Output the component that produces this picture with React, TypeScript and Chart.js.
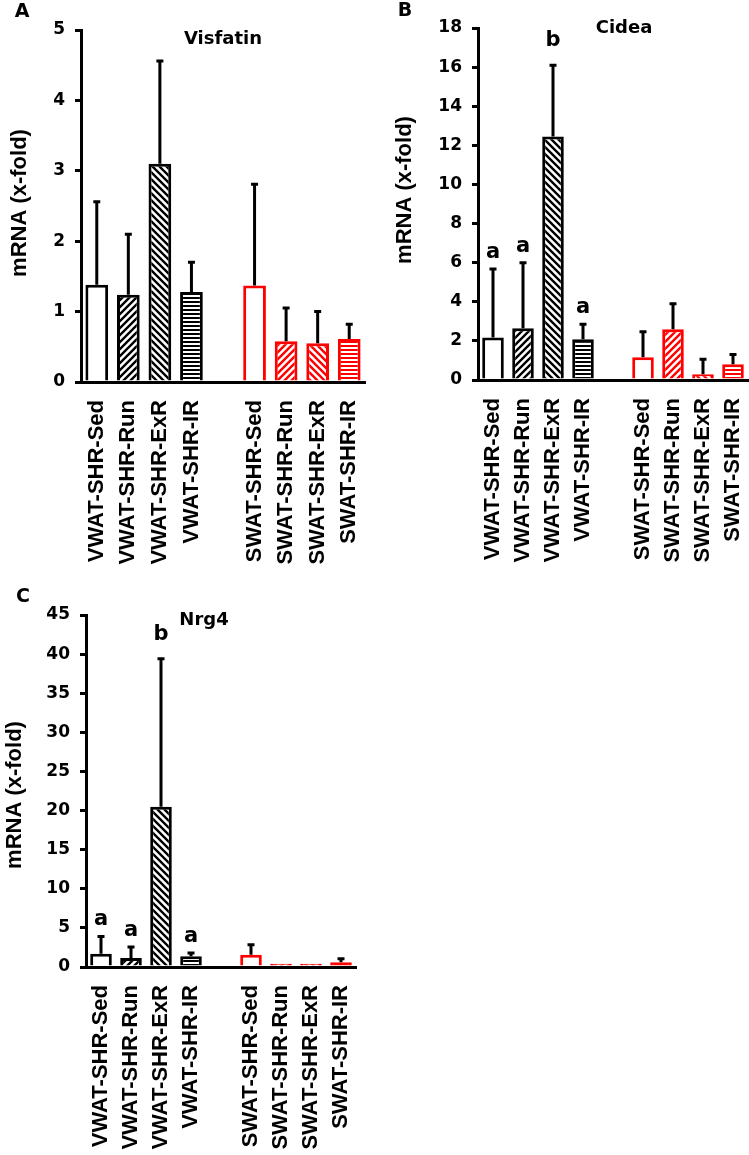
import React, { useEffect, useRef } from "react";
import { Chart, registerables } from "chart.js";

Chart.register(...registerables);

// ---------- data ----------
const categories = [
  "VWAT-SHR-Sed",
  "VWAT-SHR-Run",
  "VWAT-SHR-ExR",
  "VWAT-SHR-IR",
  "",
  "SWAT-SHR-Sed",
  "SWAT-SHR-Run",
  "SWAT-SHR-ExR",
  "SWAT-SHR-IR",
];
const hatchTypes: (string | null)[] = ["none", "fwd", "back", "horiz", null, "none", "fwd", "back", "horiz"];
const groupColors = ["#000000", "#000000", "#000000", "#000000", "#000000", "#ff0000", "#ff0000", "#ff0000", "#ff0000"];

const visfatinMean = [1.38, 1.24, 3.1, 1.28, null, 1.37, 0.58, 0.55, 0.61];
const visfatinUpper = [2.56, 2.1, 4.56, 1.7, null, 2.81, 1.05, 1.0, 0.82];
const visfatinLetters = ["", "", "", "", "", "", "", "", ""];

const cideaMean = [2.17, 2.65, 12.45, 2.08, null, 1.16, 2.6, 0.3, 0.8];
const cideaUpper = [5.68, 6.0, 16.1, 2.85, null, 2.47, 3.9, 1.06, 1.3];
const cideaLetters = ["a", "a", "b", "a", "", "", "", "", ""];

const nrg4Mean = [1.7, 1.15, 20.5, 1.36, null, 1.57, 0.4, 0.4, 0.6];
const nrg4Upper = [3.9, 2.55, 39.4, 1.8, null, 2.85, null, null, 1.06];
const nrg4Letters = ["a", "a", "b", "a", "", "", "", "", ""];

const yAxisTitle = "mRNA (x-fold)";

// ---------- styling ----------
const HFONT = '"DejaVu Sans", "Liberation Sans", sans-serif';
const VFONT = '"Liberation Sans", Arial, sans-serif';
const letterGap: Record<string, number> = { a: 11, b: 19 };

type PanelCfg = {
  letter: string;
  title: string;
  means: (number | null)[];
  uppers: (number | null)[];
  letters: string[];
  yMax: number;
  yStep: number;
  left: number;
  top: number;
  width: number;
  height: number;
  areaLeft: number;
  areaTop: number;
  areaRight: number;
  areaBottom: number;
  letterPos: [number, number];
  titlePos: [number, number];
  yTitlePos: [number, number];
};

const panels: PanelCfg[] = [
  {
    letter: "A",
    title: "Visfatin",
    means: visfatinMean,
    uppers: visfatinUpper,
    letters: visfatinLetters,
    yMax: 5,
    yStep: 1,
    left: 0,
    top: 0,
    width: 370,
    height: 570,
    areaLeft: 81,
    areaTop: 30,
    areaRight: 365,
    areaBottom: 382,
    letterPos: [22, 12],
    titlePos: [223, 39],
    yTitlePos: [20, 203],
  },
  {
    letter: "B",
    title: "Cidea",
    means: cideaMean,
    uppers: cideaUpper,
    letters: cideaLetters,
    yMax: 18,
    yStep: 2,
    left: 370,
    top: 0,
    width: 379,
    height: 570,
    areaLeft: 108,
    areaTop: 28,
    areaRight: 378,
    areaBottom: 380,
    letterPos: [35, 11],
    titlePos: [254, 28],
    yTitlePos: [35, 190],
  },
  {
    letter: "C",
    title: "Nrg4",
    means: nrg4Mean,
    uppers: nrg4Upper,
    letters: nrg4Letters,
    yMax: 45,
    yStep: 5,
    left: 0,
    top: 575,
    width: 370,
    height: 580,
    areaLeft: 86,
    areaTop: 40,
    areaRight: 356,
    areaBottom: 392,
    letterPos: [23, 22],
    titlePos: [204, 45],
    yTitlePos: [15, 220],
  },
];

function makePattern(type: string, color: string): CanvasPattern | string {
  const c = document.createElement("canvas");
  if (type === "none") return "#ffffff";
  if (type === "horiz") {
    c.width = 8;
    c.height = 4;
    const g = c.getContext("2d")!;
    g.fillStyle = "#ffffff";
    g.fillRect(0, 0, 8, 4);
    g.fillStyle = color;
    g.fillRect(0, 1, 8, 2);
    return g.createPattern(c, "repeat")!;
  }
  const s = 7;
  c.width = s;
  c.height = s;
  const g = c.getContext("2d")!;
  g.fillStyle = "#ffffff";
  g.fillRect(0, 0, s, s);
  g.strokeStyle = color;
  g.lineWidth = 2.4;
  g.beginPath();
  if (type === "fwd") {
    g.moveTo(-1, s + 1);
    g.lineTo(s + 1, -1);
    g.moveTo(-1, 1);
    g.lineTo(1, -1);
    g.moveTo(s - 1, s + 1);
    g.lineTo(s + 1, s - 1);
  } else {
    g.moveTo(-1, -1);
    g.lineTo(s + 1, s + 1);
    g.moveTo(s - 1, -1);
    g.lineTo(s + 1, 1);
    g.moveTo(-1, s - 1);
    g.lineTo(1, s + 1);
  }
  g.stroke();
  return g.createPattern(c, "repeat")!;
}

function annotPlugin(cfg: PanelCfg) {
  return {
    id: "annot" + cfg.letter,
    afterDatasetsDraw(chart: any) {
      const ctx: CanvasRenderingContext2D = chart.ctx;
      const meta = chart.getDatasetMeta(0);
      const y = chart.scales.y;
      ctx.save();
      // error bars
      ctx.strokeStyle = "#000";
      ctx.lineWidth = 3;
      ctx.lineCap = "butt";
      cfg.uppers.forEach((u, i) => {
        const m = cfg.means[i];
        if (u == null || m == null) return;
        const x = meta.data[i].x;
        const y0 = y.getPixelForValue(m);
        const y1 = y.getPixelForValue(u);
        ctx.beginPath();
        ctx.moveTo(x, y0);
        ctx.lineTo(x, y1);
        ctx.moveTo(x - 3.5, y1);
        ctx.lineTo(x + 3.5, y1);
        ctx.stroke();
      });
      // significance letters
      ctx.fillStyle = "#000";
      ctx.font = `bold 21px ${HFONT}`;
      ctx.textAlign = "center";
      ctx.textBaseline = "alphabetic";
      cfg.letters.forEach((L, i) => {
        if (!L) return;
        const top = cfg.uppers[i] ?? cfg.means[i];
        if (top == null) return;
        ctx.fillText(L, meta.data[i].x, y.getPixelForValue(top) - (letterGap[L] ?? 12));
      });
      // panel letter + title
      ctx.textBaseline = "middle";
      ctx.font = `bold 19px ${HFONT}`;
      ctx.fillText(cfg.letter, cfg.letterPos[0], cfg.letterPos[1]);
      ctx.font = `bold 18px ${HFONT}`;
      ctx.fillText(cfg.title, cfg.titlePos[0], cfg.titlePos[1]);
      // y axis title
      ctx.font = `bold 22px ${VFONT}`;
      ctx.translate(cfg.yTitlePos[0], cfg.yTitlePos[1]);
      ctx.rotate(-Math.PI / 2);
      ctx.fillText(yAxisTitle, 0, 0);
      ctx.restore();
    },
  };
}

function Panel({ cfg }: { cfg: PanelCfg }) {
  const ref = useRef<HTMLCanvasElement>(null);
  useEffect(() => {
    const canvas = ref.current!;
    const fills = hatchTypes.map((t, i) => (t ? makePattern(t, groupColors[i]) : "transparent"));
    const chart = new Chart(canvas, {
      type: "bar",
      data: {
        labels: categories,
        datasets: [
          {
            data: cfg.means as any,
            backgroundColor: fills as any,
            borderColor: groupColors,
            borderWidth: 3,
            barPercentage: 0.72,
            categoryPercentage: 1,
          },
        ],
      },
      options: {
        responsive: false,
        animation: false,
        devicePixelRatio: 1,
        layout: {
          padding: { left: 0, top: cfg.areaTop, right: cfg.width - cfg.areaRight, bottom: 0 },
        },
        plugins: {
          legend: { display: false },
          tooltip: { enabled: false },
          title: { display: false },
        },
        scales: {
          x: {
            grid: { display: false },
            border: { display: true, color: "#000", width: 3 },
            ticks: {
              color: "#000",
              font: { family: VFONT, weight: "bold", size: 22 },
              minRotation: 90,
              maxRotation: 90,
              autoSkip: false,
              padding: 10,
            },
            afterFit: (s: any) => {
              s.height = cfg.height - cfg.areaBottom;
              s.paddingLeft = 0;
              s.paddingRight = 0;
            },
          },
          y: {
            min: 0,
            max: cfg.yMax,
            ticks: {
              stepSize: cfg.yStep,
              color: "#000",
              font: { family: HFONT, weight: "bold", size: 17 },
              padding: 10,
            },
            grid: { drawOnChartArea: false, color: "#000", lineWidth: 3, tickLength: 6 },
            border: { display: true, color: "#000", width: 3 },
            afterFit: (s: any) => {
              s.width = cfg.areaLeft;
              s.paddingTop = 0;
              s.paddingBottom = 0;
            },
          },
        },
      } as any,
      plugins: [annotPlugin(cfg)],
    });
    return () => chart.destroy();
  }, [cfg]);
  return (
    <canvas
      ref={ref}
      width={cfg.width}
      height={cfg.height}
      style={{ position: "absolute", left: cfg.left, top: cfg.top, width: cfg.width, height: cfg.height }}
    />
  );
}

export default function App() {
  return (
    <div style={{ position: "absolute", left: 0, top: 0, width: 749, height: 1155, background: "#fff" }}>
      {panels.map((p) => (
        <Panel key={p.letter} cfg={p} />
      ))}
    </div>
  );
}
